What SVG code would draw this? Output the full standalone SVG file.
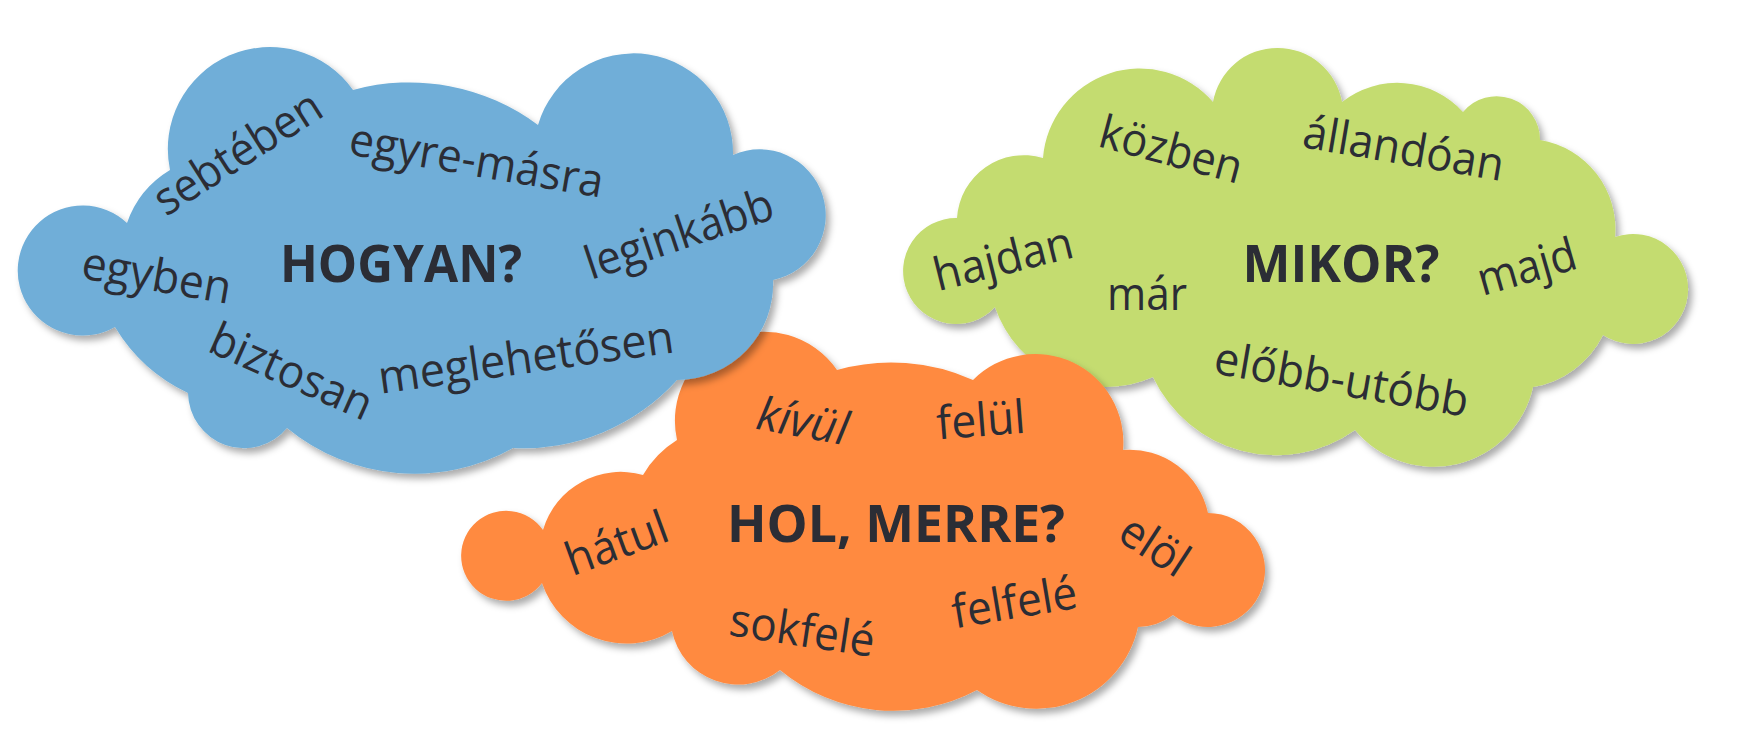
<svg xmlns="http://www.w3.org/2000/svg" width="1743" height="738" viewBox="0 0 1743 738">
<defs>
<filter id="sh" x="-10%" y="-10%" width="125%" height="130%">
<feDropShadow dx="4" dy="5" stdDeviation="3.5" flood-color="#000" flood-opacity="0.33"/>
</filter>
<style>
.t{font-family:'Open Sans','Liberation Sans',sans-serif;font-size:46px;fill:#2B2D35;text-anchor:middle}
.b{font-weight:700;font-size:52px}
.i{font-style:italic}
.cloud{filter:url(#sh)}
</style>
</defs>
<rect width="1743" height="738" fill="#FFFFFF"/>

<g id="mikor">
<path class="cloud" fill="#C4DC6F" d="M995,307 A53,53 0 1 1 957,218 A67,67 0 0 1 1043,158 A97,97 0 0 1 1213,102 A65.5,65.5 0 0 1 1342,102 A89,89 0 0 1 1463,112 A43.5,43.5 0 0 1 1540,140 A90,90 0 0 1 1615,237 A55,55 0 1 1 1603,335 A96,96 0 0 1 1533,387 A102,102 0 0 1 1355,430 A136,136 0 0 1 1153,377 A117,117 0 0 1 995,307 Z"/>
<text class="t" x="1167" y="165" transform="rotate(15 1167 165)" textLength="146" lengthAdjust="spacingAndGlyphs">közben</text>
<text class="t" x="1401" y="164" transform="rotate(9.6 1401 164)" textLength="203" lengthAdjust="spacingAndGlyphs">állandóan</text>
<text class="t" x="1007" y="274" transform="rotate(-14 1007 274)" textLength="142" lengthAdjust="spacingAndGlyphs">hajdan</text>
<text class="t" x="1147" y="310" textLength="80" lengthAdjust="spacingAndGlyphs">már</text>
<text class="t b" x="1341" y="282" textLength="197" lengthAdjust="spacingAndGlyphs">MIKOR?</text>
<text class="t" x="1531" y="282" transform="rotate(-16 1531 282)" textLength="101" lengthAdjust="spacingAndGlyphs">majd</text>
<text class="t" x="1339" y="395" transform="rotate(9.8 1339 395)" textLength="257" lengthAdjust="spacingAndGlyphs">előbb-utóbb</text>
</g>

<g id="hol-merre">
<path class="cloud" fill="#FF8A3F" d="M542,583 A45,45 0 1 1 543,530 A81,81 0 0 1 643,475 A100,100 0 0 1 677,440 A89,89 0 0 1 837,370 A200,200 0 0 1 973,380 A88,88 0 0 1 1123,450 A80,80 0 0 1 1208,513 A57,57 0 1 1 1173,615 A60,60 0 0 1 1138,627 A104,104 0 0 1 977,690 A178,178 0 0 1 780,670 A67.5,67.5 0 0 1 672,631 A89,89 0 0 1 542,583 Z"/>
<text class="t i" x="800" y="437" transform="rotate(10.5 800 437)" textLength="92" lengthAdjust="spacingAndGlyphs">kívül</text>
<text class="t" x="982" y="436" transform="rotate(-4.5 982 436)" textLength="89" lengthAdjust="spacingAndGlyphs">felül</text>
<text class="t b" x="896" y="542" textLength="338" lengthAdjust="spacingAndGlyphs">HOL, MERRE?</text>
<text class="t" x="622" y="558" transform="rotate(-20 622 558)" textLength="106" lengthAdjust="spacingAndGlyphs">hátul</text>
<text class="t" x="800" y="646" transform="rotate(8.6 800 646)" textLength="146" lengthAdjust="spacingAndGlyphs">sokfelé</text>
<text class="t" x="1017" y="618" transform="rotate(-9.5 1017 618)" textLength="126" lengthAdjust="spacingAndGlyphs">felfelé</text>
<text class="t" x="1146" y="559" transform="rotate(33 1146 559)" textLength="73" lengthAdjust="spacingAndGlyphs">elöl</text>
</g>

<g id="hogyan">
<path class="cloud" fill="#6FAED8" d="M115,327 A65,65 0 1 1 127,223 A100,100 0 0 1 170,170 A102,102 0 0 1 353,90 A215,215 0 0 1 538,125 A99.5,99.5 0 0 1 733,155 A66,66 0 1 1 773,280 A96,96 0 0 1 677,380 A207,207 0 0 1 513,448 A201,201 0 0 1 287,428 A56,56 0 0 1 188,393 A170,170 0 0 1 115,327 Z"/>
<text class="t" x="246" y="166" transform="rotate(-32.5 246 166)" textLength="190" lengthAdjust="spacingAndGlyphs">sebtében</text>
<text class="t" x="474" y="176" transform="rotate(9.7 474 176)" textLength="257" lengthAdjust="spacingAndGlyphs">egyre-másra</text>
<text class="t" x="154" y="291" transform="rotate(10 154 291)" textLength="151" lengthAdjust="spacingAndGlyphs">egyben</text>
<text class="t b" x="401" y="282" textLength="242" lengthAdjust="spacingAndGlyphs">HOGYAN?</text>
<text class="t" x="684" y="249" transform="rotate(-18.5 684 249)" textLength="196" lengthAdjust="spacingAndGlyphs">leginkább</text>
<text class="t" x="285" y="386" transform="rotate(24 285 386)" textLength="173" lengthAdjust="spacingAndGlyphs">biztosan</text>
<text class="t" x="528" y="373" transform="rotate(-8 528 373)" textLength="298" lengthAdjust="spacingAndGlyphs">meglehetősen</text>
</g>
</svg>
